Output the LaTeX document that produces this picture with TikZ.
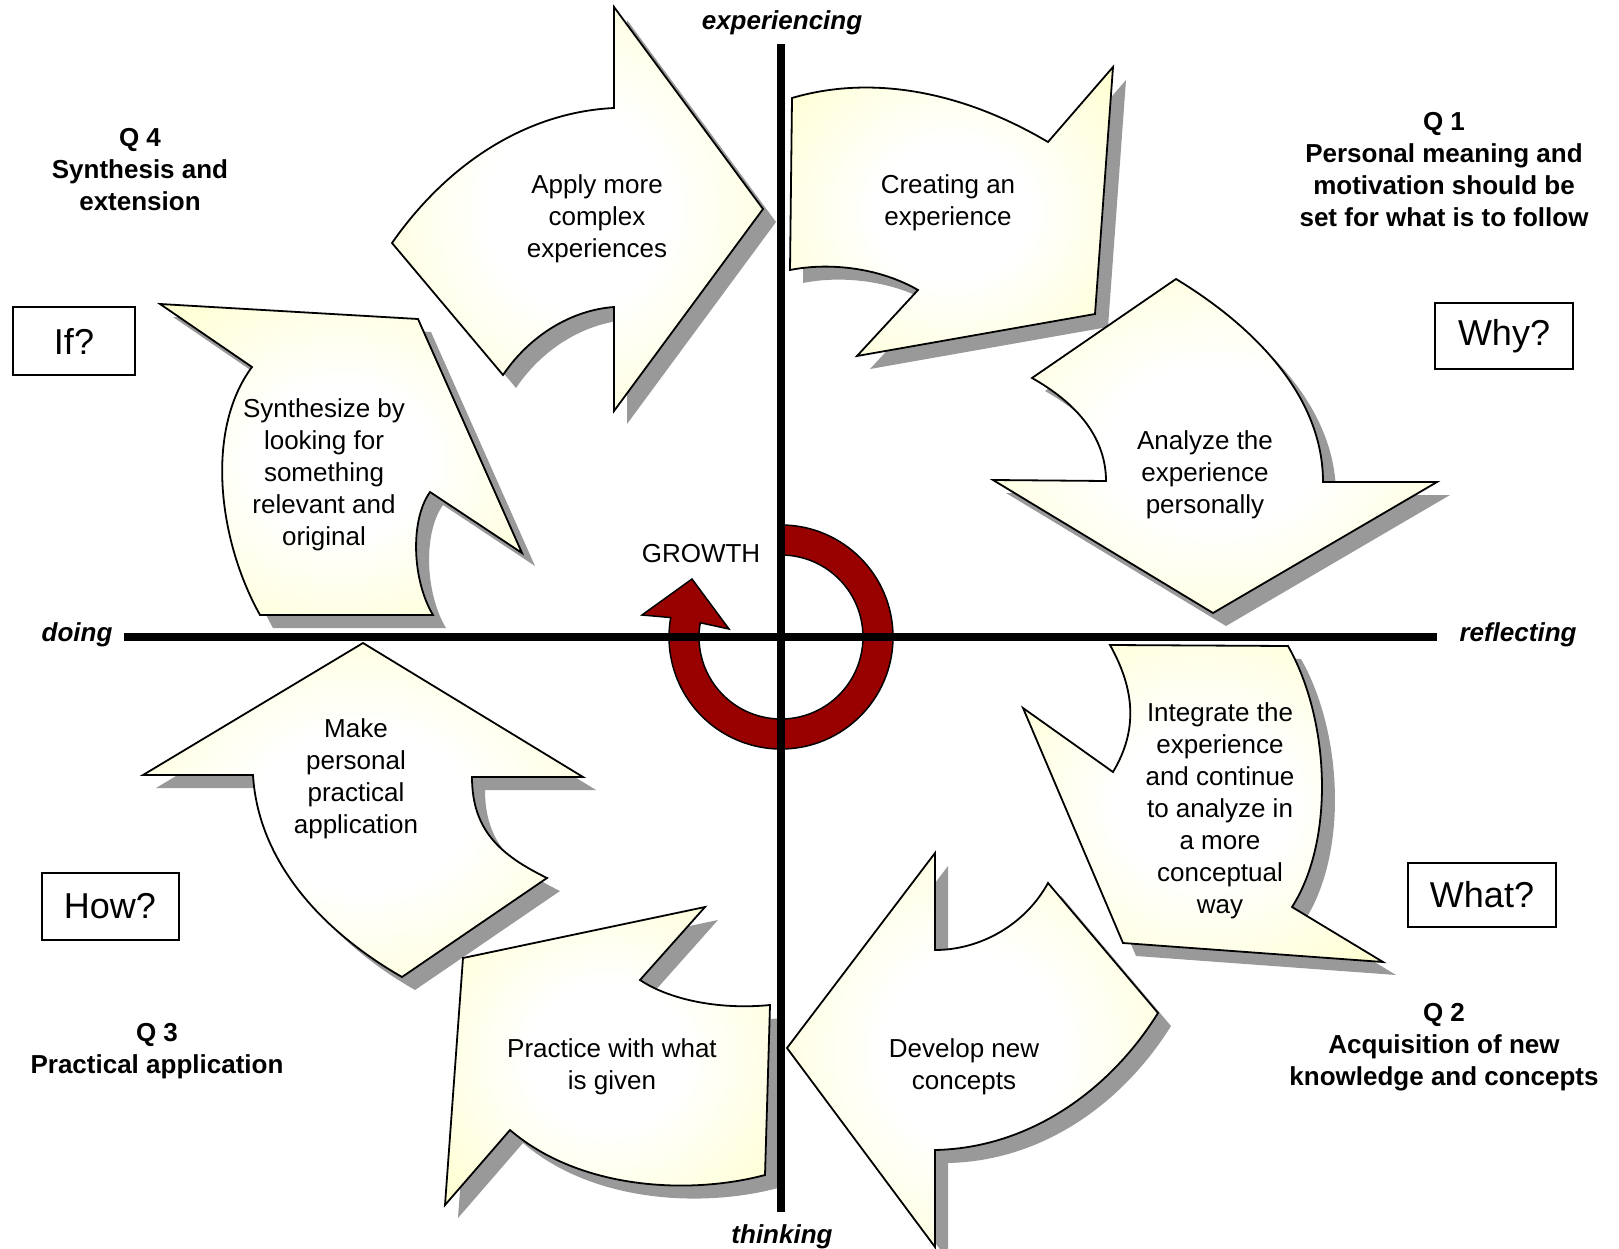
\documentclass[tikz,border=0pt]{standalone}
\usepackage{fontspec}
\setmainfont{Liberation Sans}
\usetikzlibrary{calc}
\definecolor{arrowyellow}{RGB}{255,255,188}
\definecolor{growthred}{RGB}{153,0,0}
\definecolor{shadowgray}{RGB}{153,153,153}
\pgfdeclareradialshading{arrowshade}{\pgfpoint{0bp}{0bp}}{color(0bp)=(white); color(12bp)=(white); color(45bp)=(arrowyellow); color(75bp)=(arrowyellow)}
\newcommand{\cyclearrow}[1]{\path[arrowbody] #1;}
\newcommand{\cycleshadow}[1]{\fill[shadowc,shift={(13,13)}] #1;}
\begin{document}
\begin{tikzpicture}[x=1pt,y=-1pt,
  arrowbody/.style={draw=black, line width=1.8pt, line join=miter, shade, shading=arrowshade},
  shadowc/.style={fill=shadowgray},
  steptext/.style={align=center, font=\fontsize{26}{32}\selectfont, inner sep=0pt},
  qtext/.style={align=center, font=\bfseries\fontsize{26}{32}\selectfont, inner sep=0pt},
  axislabel/.style={font=\bfseries\itshape\fontsize{26}{32}\selectfont, inner sep=0pt},
  qbox/.style={draw, line width=2pt, font=\fontsize{36}{40}\selectfont, inner sep=0pt},
  axisline/.style={line width=7.5pt},
  growthring/.style={fill=growthred, draw=black, line width=1.5pt, line join=miter}]
\fill[white] (0,0) rectangle (1619,1249);
\useasboundingbox (0,0) rectangle (1619,1249);

% arrow outlines
\def\pathApply{(392,243) .. controls (450,160) and (530,112) .. (614,108) -- (614,7) -- (763,209) -- (614,411) -- (614,307) .. controls (572,310) and (530,335) .. (503,375) -- cycle}
\def\pathCreate{(792,98) .. controls (870,75) and (960,90) .. (1048,142) -- (1113,67) -- (1095,314) -- (857,356) -- (918,290) .. controls (880,268) and (830,262) .. (790,270) -- cycle}
\def\pathAnalyze{(1176,279) .. controls (1260,330) and (1323,400) .. (1323,482) -- (1437,482) -- (1213,613) -- (993,480) -- (1106,481) .. controls (1106,440) and (1080,405) .. (1032,378) -- cycle}
\def\pathIntegrate{(1110,645) -- (1288,646) .. controls (1330,720) and (1335,840) .. (1292,907) -- (1383,962) -- (1123,943) -- (1023,708) -- (1113,772) .. controls (1138,730) and (1135,690) .. (1110,645) -- cycle}
\def\pathDevelop{(935,853) -- (787,1048) -- (935,1247) -- (935,1150) .. controls (1030,1148) and (1110,1090) .. (1158,1013) -- (1048,883) .. controls (1025,925) and (980,950) .. (935,950) -- cycle}
\def\pathPractice{(770,1005) -- (765,1175) .. controls (690,1195) and (580,1190) .. (510,1130) -- (445,1205) -- (463,958) -- (705,907) -- (640,980) .. controls (670,1000) and (720,1010) .. (770,1005) -- cycle}
\def\pathMake{(363,643) -- (143,775) -- (253,775) .. controls (258,860) and (320,930) .. (402,977) -- (547,878) .. controls (500,855) and (472,830) .. (472,777) -- (583,777) -- cycle}
\def\pathSynth{(160,304) -- (418,319) -- (522,553) -- (430,492) .. controls (410,520) and (412,580) .. (433,615) -- (260,615) .. controls (218,540) and (205,430) .. (252,367) -- cycle}

% shadows
\cycleshadow{\pathApply}
\cycleshadow{\pathCreate}
\cycleshadow{\pathAnalyze}
\cycleshadow{\pathIntegrate}
\cycleshadow{\pathDevelop}
\cycleshadow{\pathPractice}
\cycleshadow{\pathMake}
\cycleshadow{\pathSynth}

% arrows
\cyclearrow{\pathApply}
\cyclearrow{\pathCreate}
\cyclearrow{\pathAnalyze}
\cyclearrow{\pathIntegrate}
\cyclearrow{\pathDevelop}
\cyclearrow{\pathPractice}
\cyclearrow{\pathMake}
\cyclearrow{\pathSynth}

% growth ring
\coordinate (c) at (781,637);
\coordinate (hl) at (642,615);
\coordinate (ht) at (692,579);
\coordinate (hr) at (729,629);
\path[growthring] ($(c)+(270:112)$) arc[start angle=270, end angle=550, radius=112]
  -- (hl) -- (ht) -- (hr) -- ($(c)+(190:82)$) arc[start angle=550, end angle=270, radius=82] -- cycle;

% axes
\coordinate (axtop) at (781,44);
\coordinate (axbot) at (781,1212);
\coordinate (axleft) at (124,637);
\coordinate (axright) at (1437,637);
\draw[axisline] (axtop) -- (axbot);
\draw[axisline] (axleft) -- (axright);

% axis labels
\node[axislabel] (lexp) at (782,23) {experiencing};
\node[axislabel] (lthink) at (782,1237) {thinking};
\node[axislabel] (ldo) at (77,635) {doing};
\node[axislabel] (lrefl) at (1518,635) {reflecting};

% step texts
\node[steptext] (tapply) at (597,219) {Apply more\\complex\\experiences};
\node[steptext] (tcreate) at (948,203) {Creating an\\experience};
\node[steptext] (tanalyze) at (1205,475) {Analyze the\\experience\\personally};
\node[steptext] (tintegrate) at (1220,811) {Integrate the\\experience\\and continue\\to analyze in\\a more\\conceptual\\way};
\node[steptext] (tdevelop) at (964,1067) {Develop new\\concepts};
\node[steptext] (tpractice) at (612,1067) {Practice with what\\is given};
\node[steptext] (tmake) at (356,779) {Make\\personal\\practical\\application};
\node[steptext] (tsynth) at (324,475) {Synthesize by\\looking for\\something\\relevant and\\original};
\node[steptext] (tgrowth) at (701,554) {GROWTH};

% quadrant texts
\node[qtext] (q1) at (1444,170) {Q 1\\Personal meaning and\\motivation should be\\set for what is to follow};
\node[qtext] (q2) at (1444,1047) {Q 2\\Acquisition of new\\knowledge and concepts};
\node[qtext] (q3) at (157,1051) {Q 3\\Practical application};
\node[qtext] (q4) at (140,170) {Q 4\\Synthesis and\\extension};

% question boxes
\node[qbox, minimum width=122pt, minimum height=68pt] (bif) at (74,341) {If?};
\node[qbox, minimum width=138pt, minimum height=66pt] (bwhy) at (1504,336) {Why?};
\node[qbox, minimum width=137pt, minimum height=67pt] (bhow) at (110,906) {How?};
\node[qbox, minimum width=148pt, minimum height=64pt] (bwhat) at (1482,895) {What?};
\end{tikzpicture}
\end{document}
